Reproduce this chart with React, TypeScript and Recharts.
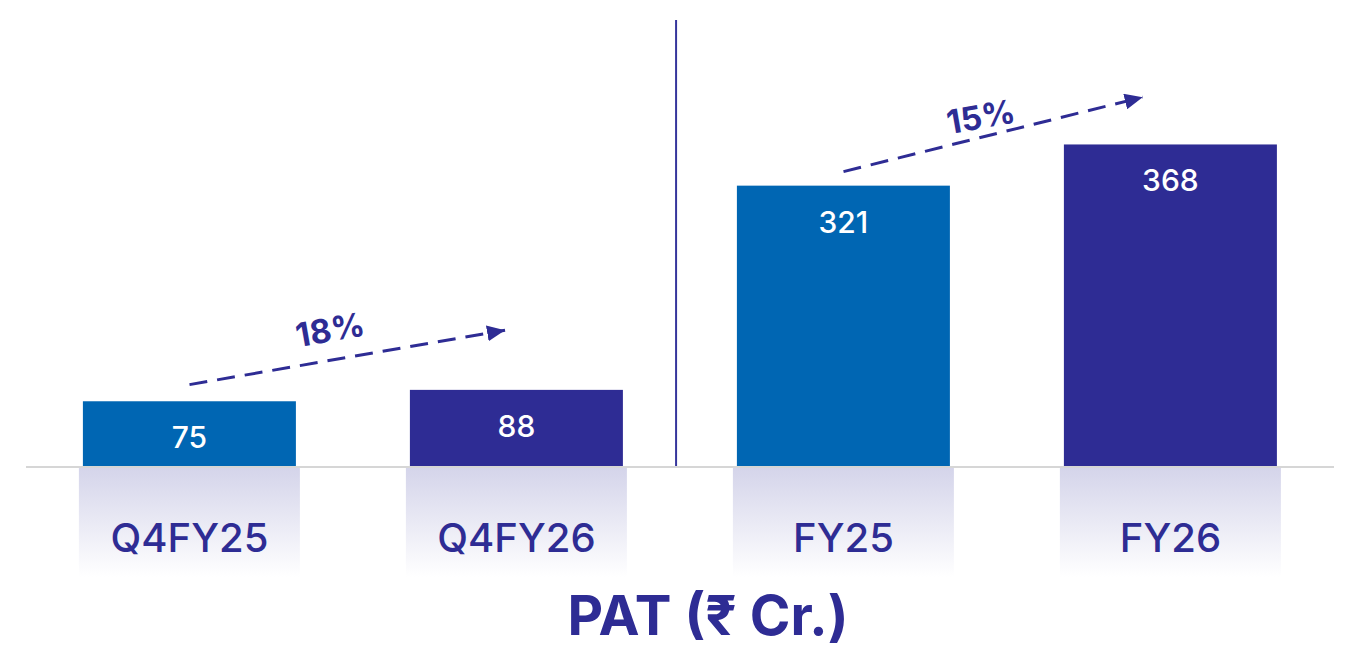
import React from 'react';
import { BarChart, Bar, XAxis, YAxis, Cell, LabelList, ReferenceLine, ReferenceDot } from 'recharts';

const categories = ['Q4FY25', 'Q4FY26', 'FY25', 'FY26'];
const patValues = [75, 88, 321, 368];
const barColors = ['#0066B3', '#2E2C94', '#0066B3', '#2E2C94'];
const chartTitle = 'PAT (₹ Cr.)';

// growth annotations, in units of the hidden numeric x axis (0..4 = category bands) and PAT values
const growthLabels = ['18%', '15%'];
const growthFromX = [0.5, 2.5];
const growthFromY = [94, 337];
const growthToX = [1.465, 3.415];
const growthToY = [156, 422];
const growthLabelX = [0.93, 2.92];
const growthLabelY = [157, 400];
const dividerX = 1.988;

const data = categories.map((name, i) => ({ name, value: patValues[i], pos: i + 0.5 }));

const NAVY = '#2E2C94';
const FONT = 'Inter, "Noto Sans", "DejaVu Sans", sans-serif';

const BarWithShadow = (props: any) => {
  const { x, y, width, height, fill } = props;
  const base = y + height;
  return (
    <g>
      <rect x={x - 4} y={base} width={width + 8} height={110} fill="url(#shadowGrad)" />
      <rect x={x} y={y} width={width} height={height} fill={fill} />
    </g>
  );
};

const ValueLabel = (props: any) => {
  const { x, y, width, value } = props;
  return (
    <text x={x + width / 2} y={y + 36} textAnchor="middle" dominantBaseline="central" fill="#ffffff" fontSize={30} fontFamily={FONT} fontWeight={500}>
      {value}
    </text>
  );
};

const CategoryTick = (props: any) => {
  const { x, y, payload } = props;
  return (
    <text x={x} y={y + 77} textAnchor="middle" fill={NAVY} fontSize={40} fontFamily={FONT} fontWeight={500}>
      {payload.value}
    </text>
  );
};

const TitleLabel = (props: any) => {
  const vb = props.viewBox || {};
  return (
    <text x={vb.x + vb.width / 2 + 28} y={vb.y + vb.height - 12} textAnchor="middle" fill={NAVY} fontSize={55} fontFamily={FONT} fontWeight={700}>
      {chartTitle}
    </text>
  );
};

const growthLabelShape = (text: string) => (props: any) => {
  const { cx, cy } = props;
  return (
    <text x={cx} y={cy} textAnchor="middle" dominantBaseline="central" transform={`rotate(-10 ${cx} ${cy})`} fill={NAVY} fontSize={33} fontFamily={FONT} fontWeight={700}>
      {text}
    </text>
  );
};

export default function App() {
  return (
    <div style={{ position: 'absolute', left: 0, top: 0, width: 1355, height: 647, background: '#fff' }}>
      <svg width={0} height={0} style={{ position: 'absolute' }}>
        <defs>
          <linearGradient id="shadowGrad" x1="0" y1="0" x2="0" y2="1">
            <stop offset="0%" stopColor="#D4D4EA" stopOpacity={1} />
            <stop offset="100%" stopColor="#FFFFFF" stopOpacity={1} />
          </linearGradient>
          <marker id="arrowHead" markerUnits="userSpaceOnUse" markerWidth={20} markerHeight={16} refX={18} refY={8} orient="auto">
            <path d="M0,0 L18,8 L0,16 Z" fill={NAVY} />
          </marker>
        </defs>
      </svg>
      <BarChart width={1355} height={647} data={data} margin={{ top: 20, right: 21, bottom: 0, left: 26 }} barCategoryGap="17.4%">
        <YAxis hide domain={[0, 510]} />
        <XAxis xAxisId="n" type="number" dataKey="pos" domain={[0, 4]} allowDataOverflow hide />
        <Bar dataKey="value" xAxisId="c" isAnimationActive={false} shape={BarWithShadow}>
          {data.map((d, i) => (
            <Cell key={d.name} fill={barColors[i]} />
          ))}
          <LabelList dataKey="value" content={ValueLabel} />
        </Bar>
        <XAxis
          xAxisId="c"
          dataKey="name"
          height={180}
          axisLine={{ stroke: '#D6D6D6', strokeWidth: 2 }}
          tickLine={false}
          tick={CategoryTick}
          interval={0}
          label={{ content: TitleLabel }}
        />
        <ReferenceLine xAxisId="n" x={dividerX} stroke="#35359C" strokeWidth={2} />
        {growthLabels.map((g, i) => (
          <ReferenceLine
            key={'l' + g}
            xAxisId="n"
            segment={[
              { x: growthFromX[i], y: growthFromY[i] },
              { x: growthToX[i], y: growthToY[i] },
            ]}
            stroke={NAVY}
            strokeWidth={3}
            strokeDasharray="18 10"
            markerEnd="url(#arrowHead)"
          />
        ))}
        {growthLabels.map((g, i) => (
          <ReferenceDot key={'d' + g} xAxisId="n" x={growthLabelX[i]} y={growthLabelY[i]} shape={growthLabelShape(g)} />
        ))}
      </BarChart>
    </div>
  );
}
